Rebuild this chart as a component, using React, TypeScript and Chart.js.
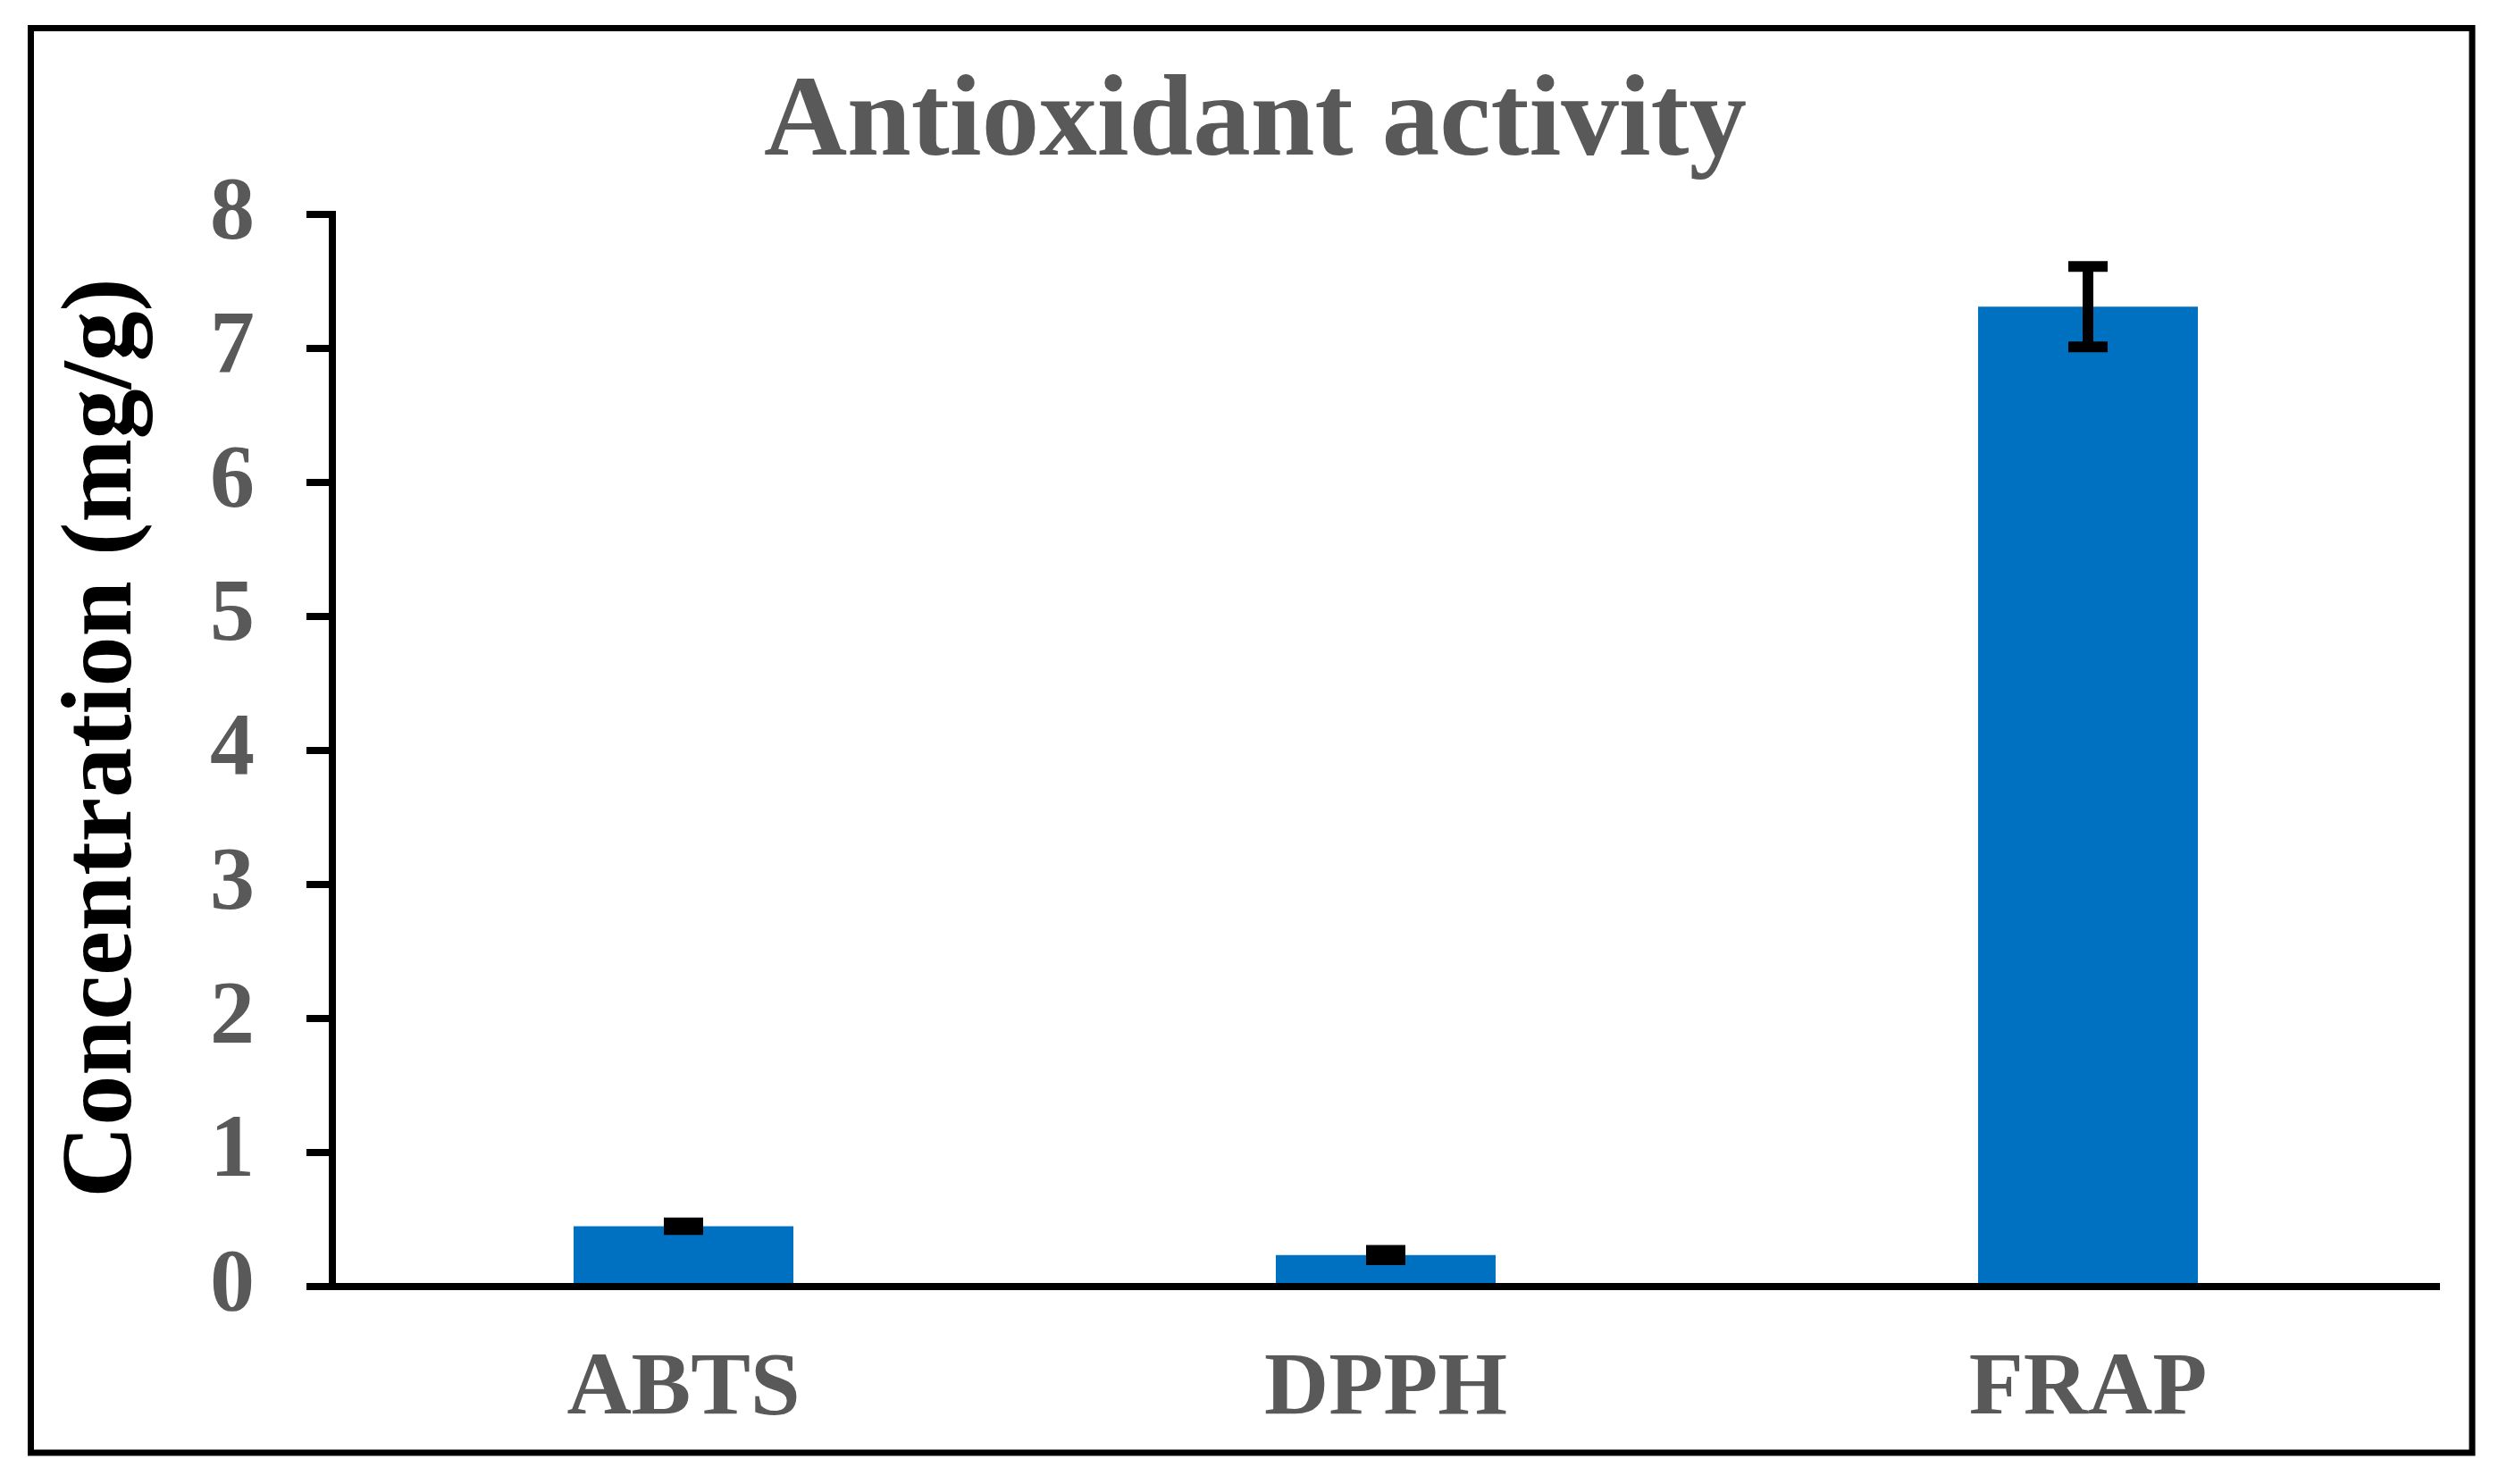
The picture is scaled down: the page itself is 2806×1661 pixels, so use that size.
import React, { useEffect, useRef } from "react";
import { Chart, registerables } from "chart.js";

Chart.register(...registerables);

const categories = ["ABTS", "DPPH", "FRAP"];
const values = [0.45, 0.235, 7.31];
const errors = [0.025, 0.035, 0.3];
const yTicks = [0, 1, 2, 3, 4, 5, 6, 7, 8];
const titleText = "Antioxidant activity";
const yTitleText = " Concentration (mg/g)";

const W = 2806;
const H = 1661;
const FONT = "'Liberation Serif', 'Times New Roman', serif";

const errorBarPlugin = {
  id: "errorBars",
  afterDatasetsDraw(chart: any) {
    const ctx = chart.ctx;
    const meta = chart.getDatasetMeta(0);
    const yScale = chart.scales.y;
    ctx.save();
    ctx.strokeStyle = "#000";
    ctx.lineWidth = 12;
    ctx.lineCap = "butt";
    meta.data.forEach((bar: any, i: number) => {
      const x = bar.x;
      const yTop = yScale.getPixelForValue(values[i] + errors[i]);
      const yBot = yScale.getPixelForValue(values[i] - errors[i]);
      const half = 22;
      ctx.beginPath();
      ctx.moveTo(x, yTop);
      ctx.lineTo(x, yBot);
      ctx.stroke();
      ctx.beginPath();
      ctx.moveTo(x - half, yTop);
      ctx.lineTo(x + half, yTop);
      ctx.moveTo(x - half, yBot);
      ctx.lineTo(x + half, yBot);
      ctx.stroke();
    });
    ctx.restore();
  },
};

const frameBorderPlugin = {
  id: "frameBorder",
  afterDraw(chart: any) {
    const ctx = chart.ctx;
    ctx.save();
    ctx.strokeStyle = "#000";
    ctx.lineWidth = 7;
    ctx.strokeRect(34.5, 31.5, 2767 - 34.5, 1626 - 31.5);
    ctx.restore();
  },
};

export default function App() {
  const canvasRef = useRef<HTMLCanvasElement | null>(null);

  useEffect(() => {
    if (!canvasRef.current) return;
    const chart = new Chart(canvasRef.current, {
      type: "bar",
      data: {
        labels: categories,
        datasets: [
          {
            data: values,
            backgroundColor: "#0070C0",
            borderWidth: 0,
            barPercentage: 0.313,
            categoryPercentage: 1,
          },
        ],
      },
      options: {
        responsive: false,
        animation: false,
        devicePixelRatio: 1,
        layout: { padding: { left: 80, right: 76, top: 0, bottom: 0 } },
        plugins: {
          legend: { display: false },
          tooltip: { enabled: false },
          title: {
            display: true,
            text: titleText,
            color: "#595959",
            font: { family: FONT, size: 129, weight: "bold", lineHeight: 1.2 },
            padding: { top: 62, bottom: 23 },
          },
        },
        scales: {
          x: {
            afterFit: (scale: any) => {
              scale.height = 221;
            },
            grid: { display: true, drawOnChartArea: false, drawTicks: false },
            border: { display: true, color: "#000", width: 8 },
            ticks: {
              color: "#595959",
              padding: 56,
              font: { family: FONT, size: 100, weight: "bold" },
            },
          },
          y: {
            min: 0,
            max: 8,
            afterFit: (scale: any) => {
              scale.width = 292;
            },
            afterBuildTicks: (scale: any) => {
              scale.ticks = yTicks.map((v) => ({ value: v }));
            },
            grid: {
              drawOnChartArea: false,
              color: "#000",
              lineWidth: 8,
              tickLength: 29,
              tickWidth: 8,
              tickColor: "#000",
            },
            border: { display: true, color: "#000", width: 8 },
            ticks: {
              color: "#595959",
              padding: 58,
              font: { family: FONT, size: 100, weight: "bold" },
            },
            title: {
              display: true,
              text: yTitleText,
              color: "#000",
              font: { family: FONT, size: 112, weight: "bold", lineHeight: 0.5 },
              padding: { top: 9, bottom: 0 },
            },
          },
        },
      },
      plugins: [errorBarPlugin, frameBorderPlugin],
    });
    return () => chart.destroy();
  }, []);

  return (
    <div style={{ position: "fixed", left: 0, top: 0, width: W, height: H, background: "#fff" }}>
      <canvas ref={canvasRef} width={W} height={H} style={{ width: W, height: H, display: "block" }} />
    </div>
  );
}
